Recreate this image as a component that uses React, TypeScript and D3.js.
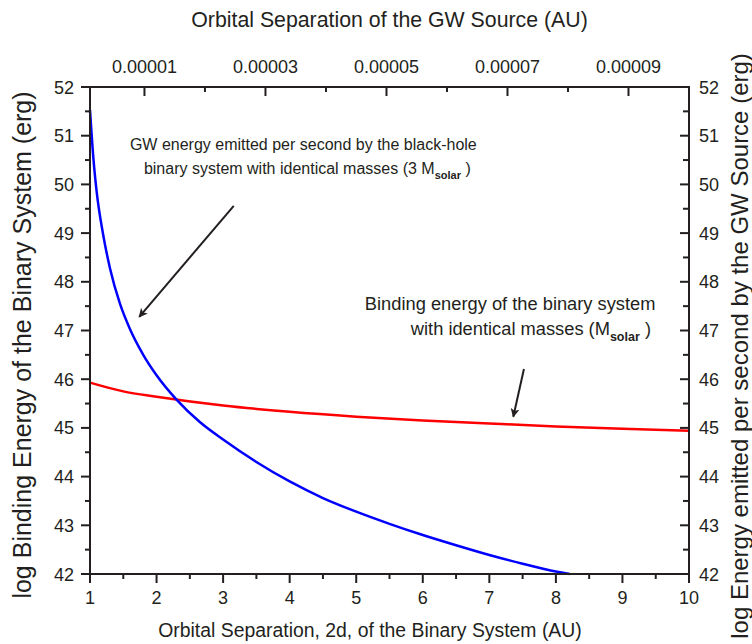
import React from "react";
import * as d3 from "d3";

// bottom axis: orbital separation 2d (AU)
const xTicks = [1, 2, 3, 4, 5, 6, 7, 8, 9, 10];
const xMinor = [1.5, 2.5, 3.5, 4.5, 5.5, 6.5, 7.5, 8.5, 9.5];
// top axis: orbital separation of the GW source (AU)
const topMajor = [0.00001, 0.00003, 0.00005, 0.00007, 0.00009];
const topMinor = [0.00002, 0.00004, 0.00006, 0.00008];
const yTicks = [42, 43, 44, 45, 46, 47, 48, 49, 50, 51, 52];
const yMinor = [42.5, 43.5, 44.5, 45.5, 46.5, 47.5, 48.5, 49.5, 50.5, 51.5];

// binding energy (red)
const bindX = [1, 1.5, 2, 3, 4, 5, 6, 7, 8, 9, 10];
const bindY = [45.93, 45.75, 45.64, 45.46, 45.33, 45.23, 45.15, 45.09, 45.03, 44.98, 44.94];

// GW energy emitted per second (blue)
const gwX = [1, 1.05, 1.1, 1.2, 1.3, 1.45, 1.6, 1.8, 2.0, 2.3, 2.65, 3.0, 3.5, 4.0, 4.5, 5.0, 5.5, 6.0, 6.5, 7.0, 7.5, 8.0, 8.21];
const gwY = [51.53, 50.55, 49.85, 48.95, 48.28, 47.55, 47.03, 46.5, 46.08, 45.58, 45.12, 44.76, 44.3, 43.9, 43.56, 43.28, 43.03, 42.8, 42.59, 42.39, 42.21, 42.05, 42.0];

const W = 752;
const H = 644;
const m = { top: 87, right: 63, bottom: 70, left: 90 };
const FONT = "'Liberation Sans', Arial, sans-serif";
const INK = "#231f20";

export default function App() {
  const x = d3.scaleLinear().domain([1, 10]).range([m.left, W - m.right]);
  const xTop = d3.scaleLinear().domain([0.000001, 0.0001]).range([m.left, W - m.right]);
  const y = d3.scaleLinear().domain([42, 52]).range([H - m.bottom, m.top]);

  const line = d3
    .line<[number, number]>()
    .x((d) => x(d[0]))
    .y((d) => y(d[1]))
    .curve(d3.curveMonotoneX);

  const bind = bindX.map((v, i) => [v, bindY[i]] as [number, number]);
  const gw = gwX.map((v, i) => [v, gwY[i]] as [number, number]);

  const x0 = m.left;
  const x1 = W - m.right;
  const y0 = m.top;
  const y1 = H - m.bottom;

  // annotation arrows in data units: [fromX, fromY, toX, toY]
  const arrows = [
    [3.16, 49.56, 1.74, 47.28],
    [7.52, 46.21, 7.36, 45.23],
  ];

  return (
    <div style={{ position: "fixed", top: 0, left: 0, width: W, height: H, overflow: "hidden" }}>
      <svg width={W} height={H} style={{ display: "block", fontFamily: FONT }}>
        <defs>
          <marker id="head" viewBox="0 0 10 10" refX="9" refY="5" markerWidth="15" markerHeight="9" markerUnits="userSpaceOnUse" orient="auto">
            <path d="M0,0 L10,5 L0,10 L2.5,5 z" fill={INK} />
          </marker>
        </defs>
        <rect width={W} height={H} fill="#fff" />

        {/* curves */}
        <path d={line(bind) || ""} fill="none" stroke="#ff0000" strokeWidth={2.5} />
        <path d={line(gw) || ""} fill="none" stroke="#0000ff" strokeWidth={2.5} />

        {/* frame */}
        <rect x={x0} y={y0} width={x1 - x0} height={y1 - y0} fill="none" stroke={INK} strokeWidth={2} />

        {/* bottom axis, outward ticks */}
        {xTicks.map((t) => (
          <g key={"bx" + t}>
            <line x1={x(t)} x2={x(t)} y1={y1} y2={y1 + 9} stroke={INK} strokeWidth={2} />
            <text x={x(t)} y={y1 + 30} textAnchor="middle" fontSize={18} fill={INK}>{t}</text>
          </g>
        ))}
        {xMinor.map((t) => (
          <line key={"bm" + t} x1={x(t)} x2={x(t)} y1={y1} y2={y1 + 5} stroke={INK} strokeWidth={2} />
        ))}

        {/* top axis, inward ticks */}
        {topMajor.map((t) => (
          <g key={"tx" + t}>
            <line x1={xTop(t)} x2={xTop(t)} y1={y0} y2={y0 + 9} stroke={INK} strokeWidth={2} />
            <text x={xTop(t)} y={y0 - 14} textAnchor="middle" fontSize={18} fill={INK}>{t.toFixed(5)}</text>
          </g>
        ))}
        {topMinor.map((t) => (
          <line key={"tm" + t} x1={xTop(t)} x2={xTop(t)} y1={y0} y2={y0 + 5} stroke={INK} strokeWidth={2} />
        ))}

        {/* left axis outward, right axis inward */}
        {yTicks.map((t) => (
          <g key={"y" + t}>
            <line x1={x0 - 9} x2={x0} y1={y(t)} y2={y(t)} stroke={INK} strokeWidth={2} />
            <text x={x0 - 16} y={y(t) + 6.5} textAnchor="end" fontSize={18} fill={INK}>{t}</text>
            <line x1={x1 - 9} x2={x1} y1={y(t)} y2={y(t)} stroke={INK} strokeWidth={2} />
            <text x={x1 + 10} y={y(t) + 6.5} textAnchor="start" fontSize={18} fill={INK}>{t}</text>
          </g>
        ))}
        {yMinor.map((t) => (
          <g key={"ym" + t}>
            <line x1={x0 - 5} x2={x0} y1={y(t)} y2={y(t)} stroke={INK} strokeWidth={2} />
            <line x1={x1 - 6} x2={x1} y1={y(t)} y2={y(t)} stroke={INK} strokeWidth={2} />
          </g>
        ))}

        {/* axis titles */}
        <text x={(x0 + x1) / 2} y={27} textAnchor="middle" fontSize={21.3} fill={INK}>
          Orbital Separation of the GW Source (AU)
        </text>
        <text x={370} y={637} textAnchor="middle" fontSize={19.4} fill={INK}>
          Orbital Separation, 2d, of the Binary System (AU)
        </text>
        <text transform="translate(31, 345) rotate(-90)" textAnchor="middle" fontSize={25} fill={INK}>
          log Binding Energy of the Binary System (erg)
        </text>
        <text transform="translate(748, 346) rotate(-90)" textAnchor="middle" fontSize={24} fill={INK}>
          log Energy emitted per second by the GW Source (erg)
        </text>

        {/* annotations */}
        <text x={x(1.6)} y={y(50.71)} fontSize={16} fill={INK}>
          GW energy emitted per second by the black-hole
        </text>
        <text x={x(1.81)} y={y(50.22)} fontSize={16} fill={INK}>
          binary system with identical masses (3 M
          <tspan fontSize={11} fontWeight="bold" dy={5}>solar</tspan>
          <tspan dy={-5}> )</tspan>
        </text>
        <text x={x(5.13)} y={y(47.42)} fontSize={18.3} fill={INK}>
          Binding energy of the binary system
        </text>
        <text x={x(5.82)} y={y(46.9)} fontSize={18.3} fill={INK}>
          with identical masses (M
          <tspan fontSize={12.5} fontWeight="bold" dy={5.5}>solar</tspan>
          <tspan dy={-5.5}> )</tspan>
        </text>
        {arrows.map((a, i) => (
          <line key={"ar" + i} x1={x(a[0])} y1={y(a[1])} x2={x(a[2])} y2={y(a[3])} stroke={INK} strokeWidth={2} markerEnd="url(#head)" />
        ))}
      </svg>
    </div>
  );
}
